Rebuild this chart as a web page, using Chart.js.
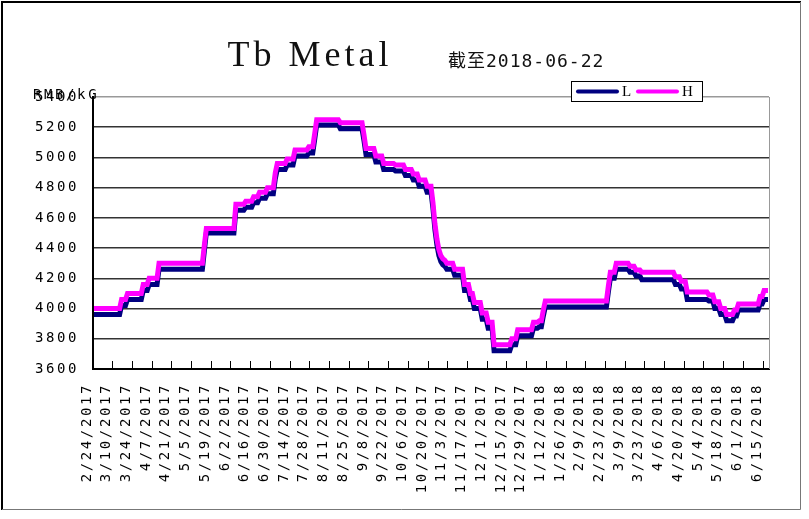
<!DOCTYPE html>
<html>
<head>
<meta charset="utf-8">
<script src="https://cdn.jsdelivr.net/npm/chart.js@4.4.1/dist/chart.umd.min.js"></script>
<style>
  html, body { margin: 0; padding: 0; background: #fff; }
  #wrap { position: relative; width: 809px; height: 519px; }
</style>
</head>
<body>
<div id="wrap"><canvas id="myChart" width="809" height="519"></canvas></div>
<script>
// tick labels, one every 10 trading days
var tickLabels = ['2/24/2017', '3/10/2017', '3/24/2017', '4/7/2017', '4/21/2017', '5/5/2017', '5/19/2017',
    '6/2/2017', '6/16/2017', '6/30/2017', '7/14/2017', '7/28/2017', '8/11/2017', '8/25/2017', '9/8/2017',
    '9/22/2017', '10/6/2017', '10/20/2017', '11/3/2017', '11/17/2017', '12/1/2017', '12/15/2017',
    '12/29/2017', '1/12/2018', '1/26/2018', '2/9/2018', '2/23/2018', '3/9/2018', '3/23/2018', '4/6/2018',
    '4/20/2018', '5/4/2018', '5/18/2018', '6/1/2018', '6/15/2018'];

var seriesNames = ['L', 'H'];

// daily low price, RMB/kG (rows of 10 trading days)
var lowPrice = [
    3960, 3960, 3960, 3960, 3960, 3960, 3960, 3960, 3960, 3960,
    3960, 3960, 3960, 3960, 4020, 4020, 4020, 4060, 4060, 4060,
    4060, 4060, 4060, 4060, 4060, 4120, 4120, 4120, 4160, 4160,
    4160, 4160, 4160, 4260, 4260, 4260, 4260, 4260, 4260, 4260,
    4260, 4260, 4260, 4260, 4260, 4260, 4260, 4260, 4260, 4260,
    4260, 4260, 4260, 4260, 4260, 4260, 4380, 4500, 4500, 4500,
    4500, 4500, 4500, 4500, 4500, 4500, 4500, 4500, 4500, 4500,
    4500, 4500, 4650, 4650, 4650, 4650, 4650, 4670, 4670, 4670,
    4670, 4700, 4700, 4700, 4730, 4730, 4730, 4730, 4760, 4760,
    4760, 4760, 4860, 4920, 4920, 4920, 4920, 4920, 4950, 4950,
    4950, 4950, 5010, 5010, 5010, 5010, 5010, 5010, 5010, 5030,
    5030, 5030, 5120, 5215, 5215, 5215, 5215, 5215, 5215, 5215,
    5215, 5215, 5215, 5215, 5215, 5190, 5190, 5190, 5190, 5190,
    5190, 5190, 5190, 5190, 5190, 5190, 5190, 5110, 5020, 5020,
    5020, 5020, 5020, 4970, 4970, 4970, 4970, 4920, 4920, 4920,
    4920, 4920, 4920, 4910, 4910, 4910, 4910, 4910, 4880, 4880,
    4880, 4880, 4850, 4850, 4850, 4810, 4810, 4810, 4810, 4770,
    4770, 4770, 4660, 4520, 4420, 4350, 4310, 4290, 4280, 4260,
    4260, 4260, 4260, 4220, 4220, 4220, 4220, 4220, 4120, 4120,
    4120, 4060, 4060, 4000, 4000, 4000, 4000, 3930, 3930, 3930,
    3870, 3870, 3870, 3720, 3720, 3720, 3720, 3720, 3720, 3720,
    3720, 3720, 3760, 3760, 3760, 3820, 3820, 3820, 3820, 3820,
    3820, 3820, 3820, 3870, 3870, 3870, 3880, 3880, 3950, 4010,
    4010, 4010, 4010, 4010, 4010, 4010, 4010, 4010, 4010, 4010,
    4010, 4010, 4010, 4010, 4010, 4010, 4010, 4010, 4010, 4010,
    4010, 4010, 4010, 4010, 4010, 4010, 4010, 4010, 4010, 4010,
    4010, 4110, 4200, 4200, 4200, 4260, 4260, 4260, 4260, 4260,
    4260, 4260, 4240, 4240, 4240, 4215, 4215, 4215, 4190, 4190,
    4190, 4190, 4190, 4190, 4190, 4190, 4190, 4190, 4190, 4190,
    4190, 4190, 4190, 4190, 4190, 4160, 4160, 4160, 4130, 4130,
    4130, 4060, 4060, 4060, 4060, 4060, 4060, 4060, 4060, 4060,
    4060, 4060, 4050, 4050, 4050, 4000, 4000, 4000, 3960, 3960,
    3960, 3920, 3920, 3920, 3920, 3950, 3950, 3990, 3990, 3990,
    3990, 3990, 3990, 3990, 3990, 3990, 3990, 3990, 4030, 4030,
    4060, 4060, 4060
];

// daily high price, RMB/kG
var highPrice = [
    4000, 4000, 4000, 4000, 4000, 4000, 4000, 4000, 4000, 4000,
    4000, 4000, 4000, 4000, 4060, 4060, 4060, 4100, 4100, 4100,
    4100, 4100, 4100, 4100, 4100, 4160, 4160, 4160, 4200, 4200,
    4200, 4200, 4200, 4300, 4300, 4300, 4300, 4300, 4300, 4300,
    4300, 4300, 4300, 4300, 4300, 4300, 4300, 4300, 4300, 4300,
    4300, 4300, 4300, 4300, 4300, 4300, 4420, 4530, 4530, 4530,
    4530, 4530, 4530, 4530, 4530, 4530, 4530, 4530, 4530, 4530,
    4530, 4530, 4690, 4690, 4690, 4690, 4690, 4710, 4710, 4710,
    4710, 4740, 4740, 4740, 4770, 4770, 4770, 4770, 4800, 4800,
    4800, 4800, 4900, 4960, 4960, 4960, 4960, 4960, 4990, 4990,
    4990, 4990, 5050, 5050, 5050, 5050, 5050, 5050, 5050, 5070,
    5070, 5070, 5160, 5250, 5250, 5250, 5250, 5250, 5250, 5250,
    5250, 5250, 5250, 5250, 5250, 5230, 5230, 5230, 5230, 5230,
    5230, 5230, 5230, 5230, 5230, 5230, 5230, 5150, 5060, 5060,
    5060, 5060, 5060, 5010, 5010, 5010, 5010, 4960, 4960, 4960,
    4960, 4960, 4960, 4950, 4950, 4950, 4950, 4950, 4920, 4920,
    4920, 4920, 4890, 4890, 4890, 4850, 4850, 4850, 4850, 4810,
    4810, 4810, 4700, 4560, 4460, 4390, 4350, 4330, 4320, 4300,
    4300, 4300, 4300, 4260, 4260, 4260, 4260, 4260, 4160, 4160,
    4160, 4100, 4100, 4040, 4040, 4040, 4040, 3970, 3970, 3970,
    3910, 3910, 3910, 3760, 3760, 3760, 3760, 3760, 3760, 3760,
    3760, 3760, 3800, 3800, 3800, 3860, 3860, 3860, 3860, 3860,
    3860, 3860, 3860, 3910, 3910, 3910, 3920, 3920, 3990, 4050,
    4050, 4050, 4050, 4050, 4050, 4050, 4050, 4050, 4050, 4050,
    4050, 4050, 4050, 4050, 4050, 4050, 4050, 4050, 4050, 4050,
    4050, 4050, 4050, 4050, 4050, 4050, 4050, 4050, 4050, 4050,
    4050, 4150, 4240, 4240, 4240, 4300, 4300, 4300, 4300, 4300,
    4300, 4300, 4280, 4280, 4280, 4255, 4255, 4255, 4240, 4240,
    4240, 4240, 4240, 4240, 4240, 4240, 4240, 4240, 4240, 4240,
    4240, 4240, 4240, 4240, 4240, 4210, 4210, 4210, 4180, 4180,
    4180, 4110, 4110, 4110, 4110, 4110, 4110, 4110, 4110, 4110,
    4110, 4110, 4090, 4090, 4090, 4045, 4045, 4045, 4000, 4000,
    4000, 3960, 3960, 3960, 3960, 3990, 3990, 4030, 4030, 4030,
    4030, 4030, 4030, 4030, 4030, 4030, 4030, 4030, 4080, 4080,
    4120, 4120, 4120
];

var axisFont = '14px "DejaVu Sans Mono", monospace';

function toPoints(arr) {
    return arr.map(function (v, i) { return { x: i + 0.5, y: v }; });
}

// title, unit label, legend box, frame
var decorations = {
    id: 'decorations',
    beforeDraw: function (chart) {
        chart.ctx.letterSpacing = '2.6px';
    },
    afterDraw: function (chart) {
        var ctx = chart.ctx;
        var area = chart.chartArea;
        ctx.save();

        // right border of plot
        ctx.strokeStyle = '#999';
        ctx.lineWidth = 1;
        ctx.beginPath();
        ctx.moveTo(area.right + 0.5, area.top);
        ctx.lineTo(area.right + 0.5, area.bottom);
        ctx.stroke();

        // outer frame
        ctx.strokeStyle = '#000';
        ctx.lineWidth = 2;
        ctx.beginPath();
        ctx.moveTo(2, chart.height - 9);
        ctx.lineTo(2, 2);
        ctx.lineTo(chart.width - 8, 2);
        ctx.stroke();
        ctx.strokeStyle = '#777';
        ctx.lineWidth = 1;
        ctx.beginPath();
        ctx.moveTo(chart.width - 8.5, 2);
        ctx.lineTo(chart.width - 8.5, chart.height - 9.5);
        ctx.lineTo(2, chart.height - 9.5);
        ctx.stroke();

        // title
        ctx.fillStyle = '#111';
        ctx.textBaseline = 'alphabetic';
        ctx.textAlign = 'center';
        ctx.letterSpacing = '4px';
        ctx.font = '36px "Liberation Serif", serif';
        ctx.fillText('Tb Metal', 310, 66);

        ctx.textAlign = 'left';
        ctx.letterSpacing = '1px';
        ctx.font = '18px "DejaVu Sans Mono", "Noto Sans CJK SC", monospace';
        ctx.fillText('截至2018-06-22', 448, 67);

        // unit label, drawn over the top tick label as in the original
        ctx.letterSpacing = '2.6px';
        ctx.font = axisFont;
        ctx.textBaseline = 'middle';
        ctx.fillStyle = '#000';
        ctx.fillText('RMB/kG', 33, chart.scales.y.getPixelForValue(5400) - 2);

        // legend
        var lx = area.right - 198, ly = area.top - 16, lw = 131, lh = 20;
        ctx.fillStyle = '#fff';
        ctx.fillRect(lx, ly, lw, lh);
        ctx.strokeStyle = '#000';
        ctx.lineWidth = 1;
        ctx.strokeRect(lx + 0.5, ly + 0.5, lw, lh);
        var xCur = lx + 7;
        chart.data.datasets.forEach(function (ds) {
            ctx.strokeStyle = ds.borderColor;
            ctx.lineWidth = 4;
            ctx.lineCap = 'round';
            ctx.beginPath();
            ctx.moveTo(xCur, ly + lh / 2 + 0.5);
            ctx.lineTo(xCur + 39, ly + lh / 2 + 0.5);
            ctx.stroke();
            ctx.fillStyle = '#000';
            ctx.letterSpacing = '0px';
            ctx.textBaseline = 'middle';
            ctx.font = '15px "Liberation Serif", serif';
            ctx.fillText(ds.label, xCur + 44, ly + lh / 2 + 1);
            xCur += 60;
        });

        ctx.restore();
        ctx.letterSpacing = '0px';
    }
};

var ctx = document.getElementById('myChart').getContext('2d');
var myChart = new Chart(ctx, {
    type: 'line',
    data: {
        datasets: [{
            label: seriesNames[0],
            data: toPoints(lowPrice),
            borderColor: '#000080',
            borderWidth: 5,
            pointRadius: 0,
            order: 2
        }, {
            label: seriesNames[1],
            data: toPoints(highPrice),
            borderColor: '#FF00FF',
            borderWidth: 5,
            pointRadius: 0,
            order: 1
        }]
    },
    options: {
        responsive: false,
        animation: false,
        layout: {
            padding: { top: 97, right: 40, left: 0, bottom: 0 }
        },
        plugins: {
            legend: { display: false },
            title: { display: false },
            tooltip: { enabled: false }
        },
        scales: {
            x: {
                type: 'linear',
                min: 0,
                max: highPrice.length,
                afterBuildTicks: function (scale) {
                    scale.ticks = tickLabels.map(function (t, k) { return { value: k * 10 }; });
                },
                afterFit: function (scale) { scale.height = 150; },
                grid: {
                    display: true,
                    drawOnChartArea: false,
                    drawTicks: true,
                    tickLength: -8,
                    color: '#000'
                },
                border: { display: true, color: '#000', width: 2 },
                ticks: {
                    autoSkip: false,
                    maxRotation: 90,
                    minRotation: 90,
                    padding: 22,
                    labelOffset: -6,
                    color: '#000',
                    font: { family: '"DejaVu Sans Mono", monospace', size: 14 },
                    callback: function (value) { return tickLabels[Math.round(value / 10)]; }
                }
            },
            y: {
                min: 3600,
                max: 5400,
                afterFit: function (scale) { scale.width = 93; },
                grid: {
                    drawTicks: false,
                    lineWidth: 1.5,
                    color: function (c) {
                        if (c.tick.value === 5400) return '#999';
                        if (c.tick.value === 3600) return 'rgba(0,0,0,0)';
                        return '#333';
                    }
                },
                border: { display: true, color: '#000', width: 2 },
                ticks: {
                    stepSize: 200,
                    padding: 14,
                    color: '#000',
                    font: { family: '"DejaVu Sans Mono", monospace', size: 14 },
                    callback: function (value) { return String(value); }
                }
            }
        }
    },
    plugins: [decorations]
});
</script>
</body>
</html>
